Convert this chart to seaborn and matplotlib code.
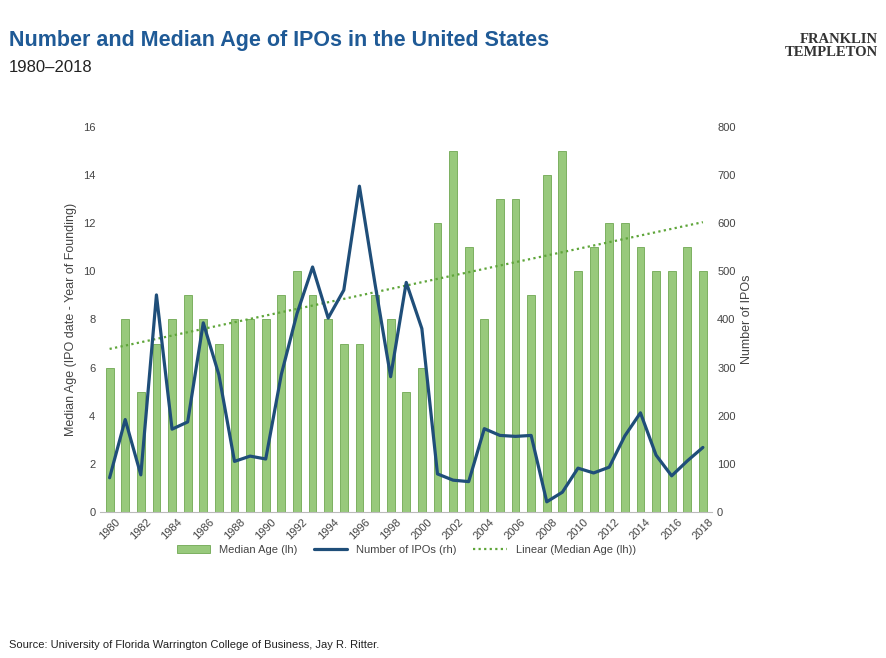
import numpy as np
import pandas as pd
import matplotlib.pyplot as plt
import seaborn as sns

years = list(range(1980, 2019))
median_age = [6, 8, 5, 7, 8, 9, 8, 7, 8, 8, 8, 9, 10, 9, 8, 7, 7, 9, 8, 5,
              6, 12, 15, 11, 8, 13, 13, 9, 14, 15, 10, 11, 12, 12, 11, 10, 10, 11, 10]
num_ipos = [71, 192, 77, 451, 172, 187, 393, 285, 105, 116, 110, 286, 412, 509, 403,
            461, 677, 474, 281, 477, 381, 79, 66, 63, 173, 159, 157, 159, 21, 41,
            91, 81, 93, 158, 206, 118, 75, 106, 134]

df = pd.DataFrame({"year": years, "age": median_age, "ipos": num_ipos})
df["pos"] = np.arange(len(df))

sns.set_style("white")
plt.rcParams['font.family'] = ['Liberation Sans', 'DejaVu Sans']

fig = plt.figure(figsize=(8.87, 6.58), dpi=100)
ax = fig.add_axes([0.113, 0.222, 0.69, 0.585])

sns.barplot(data=df, x="pos", y="age", color="#98c97c", saturation=1, width=0.5,
            edgecolor="#6fa852", linewidth=0.6, ax=ax, label="Median Age (lh)")
# linear trend of median age
k, b = np.polyfit(df["pos"], df["age"], 1)
trend, = ax.plot(df["pos"], k * df["pos"] + b, ls=(0, (1, 1.5)), color="#5ea539", lw=1.6,
                 label="Linear (Median Age (lh))")
ax.set_ylim(0, 16)
ax.set_yticks(range(0, 17, 2))
ax.set_xlim(-0.6, len(df) - 0.4)
ax.set_xticks(df["pos"][::2])
ax.set_xticklabels(df["year"][::2], rotation=45, fontsize=8, color="#444")
ax.tick_params(axis="y", labelsize=8, colors="#444", length=0)
ax.tick_params(axis="x", length=0)
ax.set_xlabel("")
ax.set_ylabel("Median Age (IPO date - Year of Founding)", fontsize=9, color="#444")
for s in ["top", "right", "left"]:
    ax.spines[s].set_visible(False)
ax.spines["bottom"].set_color("#bbb")

ax2 = ax.twinx()
sns.lineplot(data=df, x="pos", y="ipos", color="#1f4e79", lw=2.3, ax=ax2,
             label="Number of IPOs (rh)", legend=False)
ax2.set_ylim(0, 800)
ax2.set_yticks(range(0, 801, 100))
ax2.tick_params(axis="y", labelsize=8, colors="#444", length=0)
ax2.set_ylabel("Number of IPOs", fontsize=9, color="#444")
ax2.set_xlabel("")
for s in ax2.spines.values():
    s.set_visible(False)

h1, l1 = ax.get_legend_handles_labels()
h2, l2 = ax2.get_legend_handles_labels()
bar_h = [h for h, l in zip(h1, l1) if l == "Median Age (lh)"][:1]
ax.legend(bar_h + h2 + [trend], ["Median Age (lh)", "Number of IPOs (rh)", "Linear (Median Age (lh))"],
          loc="upper center", bbox_to_anchor=(0.5, -0.06), ncol=3, frameon=False,
          fontsize=8, handlelength=3, columnspacing=1.5, labelcolor="#444")

fig.text(0.01, 0.93, "Number and Median Age of IPOs in the United States", fontsize=15.5,
         fontweight="bold", color="#1f5a96")
fig.text(0.01, 0.89, "1980\u20132018", fontsize=12, color="#222")
fig.text(0.99, 0.915, "FRANKLIN\nTEMPLETON", fontsize=10.5, ha="right", family="Liberation Serif",
         fontweight="bold", color="#333", linespacing=1.0)
fig.text(0.01, 0.015, "Source: University of Florida Warrington College of Business, Jay R. Ritter.",
         fontsize=8, color="#222")

fig.savefig("out.png", dpi=100)
